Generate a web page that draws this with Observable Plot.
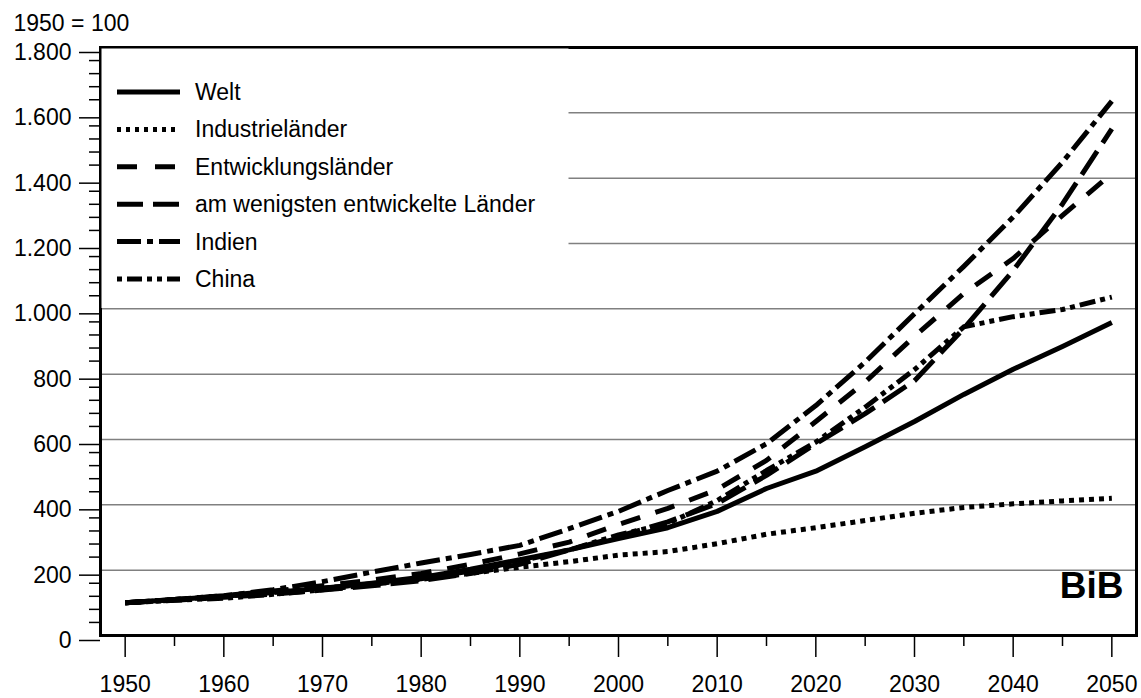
<!DOCTYPE html>
<html><head><meta charset="utf-8">
<script src="https://cdn.jsdelivr.net/npm/d3@7"></script>
<script src="https://cdn.jsdelivr.net/npm/@observablehq/plot@0.6"></script>
<style>
body{margin:0;background:#fff;font-family:"Liberation Sans",Arial,sans-serif;}
#wrap{position:relative;width:1141px;height:698px;}
#wrap svg.overlay{position:absolute;left:0;top:0;pointer-events:none;}
</style></head><body><div id="wrap"></div>
<script>
// ---- data ----
const years = [1950,1955,1960,1965,1970,1975,1980,1985,1990,1995,2000,2005,2010,2015,2020,2025,2030,2035,2040,2045,2050];
const seriesNames = ["Welt","Industrieländer","Entwicklungsländer","am wenigsten entwickelte Länder","Indien","China"];
const welt        = [100,110,120,132,145,160,178,203,232,262,297,330,380,450,503,578,655,738,815,885,958];
const industrie   = [100,110,120,132,145,158,172,190,209,226,246,257,281,310,330,352,374,392,403,412,420];
const entwicklung = [100,110,122,136,152,170,190,218,250,286,340,389,447,536,655,776,916,1047,1154,1286,1414];
const amWenigsten = [100,108,117,127,139,152,168,190,218,262,303,348,404,490,587,679,780,940,1117,1321,1551];
const indien      = [100,110,122,140,165,194,222,248,276,327,380,444,503,587,704,837,985,1130,1281,1449,1636];
const china       = [100,108,114,126,140,156,174,197,228,262,308,343,413,505,592,699,814,945,976,998,1036];
const yMajorTicks = [0,200,400,600,800,1000,1200,1400,1600,1800];
const xMajorTicks = [1950,1960,1970,1980,1990,2000,2010,2020,2030,2040,2050];
const yAxisNote = "1950 = 100";
const sourceMark = "BiB";

// ---- styles ----
const values = [welt, industrie, entwicklung, amWenigsten, indien, china];
const dashes = [null, "5,5", "20,16", "28,10", "24,6,6,6", "16,5,5,5,5,5"];
const legendDashes = [null, "4,5", "20,18", "26,10", "24,6,6,6", "5,5,15,5,5,5"];

const yMinorTicks = d3.range(0, 1801, 40).filter(v => v % 200 !== 0);
const xMinorTicks = d3.range(1955, 2050, 10);
const fmt = d3.formatLocale({decimal: ",", thousands: ".", grouping: [3], currency: ["", "€"]}).format(",");

const lineMarks = seriesNames.map((name, s) => {
  const rows = years.map((yr, i) => ({year: yr, value: values[s][i], series: name}));
  const opts = {x: "year", y: "value", stroke: "#000", strokeWidth: 5, strokeLinecap: "butt", strokeLinejoin: "round"};
  if (dashes[s]) opts.strokeDasharray = dashes[s];
  return Plot.line(rows, opts);
});

const font = "Liberation Sans, Arial, sans-serif";
const chart = Plot.plot({
  width: 1141, height: 698,
  marginLeft: 100, marginRight: 5, marginTop: 47, marginBottom: 63,
  x: {domain: [1947.5, 2052.5], label: null},
  y: {domain: [0, 1800], label: null},
  style: {fontFamily: font, fontSize: "23px", color: "#000", background: "#fff"},
  marks: [
    Plot.gridY(yMajorTicks, {stroke: "#808080", strokeOpacity: 1, strokeWidth: 1.5}),
    Plot.axisY(yMinorTicks, {tickSize: 11, tickFormat: () => "", strokeWidth: 1.5, label: null}),
    Plot.axisY(yMajorTicks, {tickSize: 21, tickPadding: 8, tickFormat: fmt, dy: 5, fontSize: 23, strokeWidth: 1.5, label: null}),
    Plot.axisX(xMinorTicks, {tickSize: 11, tickFormat: () => "", strokeWidth: 1.5, label: null}),
    Plot.axisX(xMajorTicks, {tickSize: 22, tickPadding: 18, tickFormat: d => String(d), fontSize: 23, strokeWidth: 1.5, label: null}),
    ...lineMarks,
    Plot.frame({stroke: "#000", strokeWidth: 3}),
    Plot.text([sourceMark], {frameAnchor: "bottom-right", dx: -13, dy: -38, fontSize: 37, fontWeight: "bold", textAnchor: "end", fill: "#000"}),
    Plot.text([yAxisNote], {frameAnchor: "top-left", dx: -87, dy: -33, fontSize: 23, textAnchor: "start", fill: "#000"})
  ]
});
const wrap = document.getElementById("wrap");
wrap.appendChild(chart);

// ---- legend overlay ----
const leg = d3.create("svg").attr("class", "overlay").attr("width", 1141).attr("height", 698);
leg.append("rect").attr("x", 101.5).attr("y", 48.5).attr("width", 467).attr("height", 259.5).attr("fill", "#fff");
seriesNames.forEach((name, i) => {
  const cy = 92 + i * 37.4;
  const ln = leg.append("line").attr("x1", 117).attr("x2", 180).attr("y1", cy).attr("y2", cy)
    .attr("stroke", "#000").attr("stroke-width", 5).attr("stroke-linecap", "butt");
  if (legendDashes[i]) ln.attr("stroke-dasharray", legendDashes[i]);
  leg.append("text").attr("x", 195).attr("y", cy).attr("dy", "0.35em")
    .attr("font-family", font).attr("font-size", 23).attr("fill", "#000").text(name);
});
wrap.appendChild(leg.node());
</script></body></html>
